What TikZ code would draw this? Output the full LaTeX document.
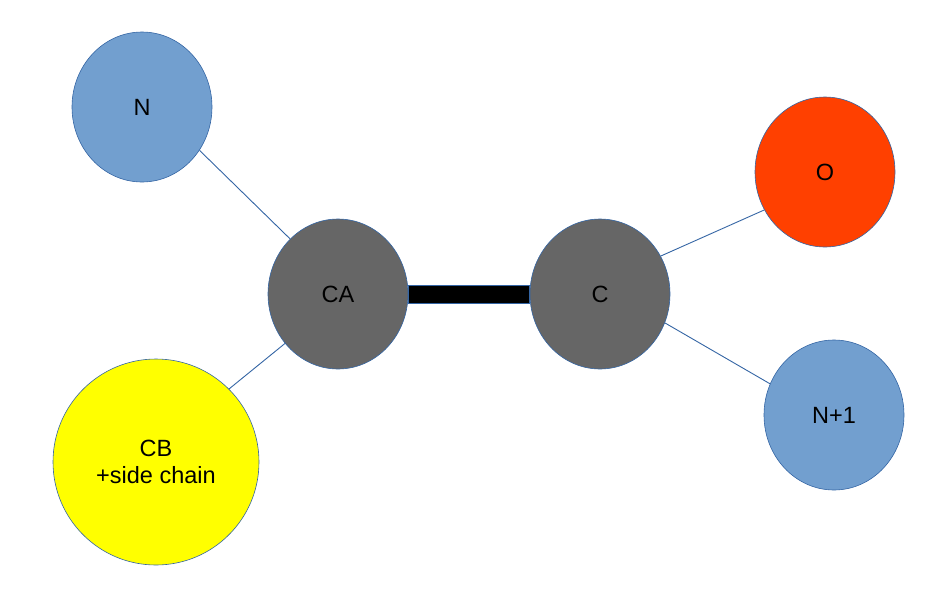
\documentclass[tikz,border=0pt]{standalone}
\usepackage{fontspec}
\setmainfont{Liberation Sans}
\usetikzlibrary{shapes.geometric}
\definecolor{nblue}{HTML}{729FCF}
\definecolor{edge}{HTML}{3465A4}
\definecolor{atomgray}{HTML}{666666}
\definecolor{oxy}{HTML}{FF4000}
\definecolor{cbyellow}{HTML}{FFFF00}
\tikzset{
  atom/.style={ellipse, draw=edge, line width=0.6pt, minimum width=140pt, minimum height=150pt, inner sep=0pt, font=\fontsize{23.5}{27}\selectfont, align=center},
  bond/.style={draw=edge, line width=0.9pt}
}
\begin{document}
\begin{tikzpicture}[x=1pt,y=-1pt]
\useasboundingbox (0,0) rectangle (946,595);
\node[atom, fill=nblue] (N) at (142,107) {N};
\node[atom, fill=atomgray] (CA) at (338,294) {CA};
\node[atom, fill=atomgray] (C) at (600,294) {C};
\node[atom, fill=oxy] (O) at (825,172) {O};
\node[atom, fill=nblue] (N1) at (834,415) {N+1};
\node[atom, fill=cbyellow, minimum width=206pt, minimum height=206pt] (CB) at (156,462) {CB\\+side chain};
\draw[bond] (N.-37.6) -- (CA.131.8);
\draw[bond] (CB.45) -- (CA.223.9);
\draw[bond] (C.32.2) -- (O.212.3);
\draw[bond] (C.-24.8) -- (N1.154.6);
\draw[edge, line width=0.5pt, fill=black] (CA.east |- 0,285) rectangle (C.west |- 0,303);
\end{tikzpicture}
\end{document}
